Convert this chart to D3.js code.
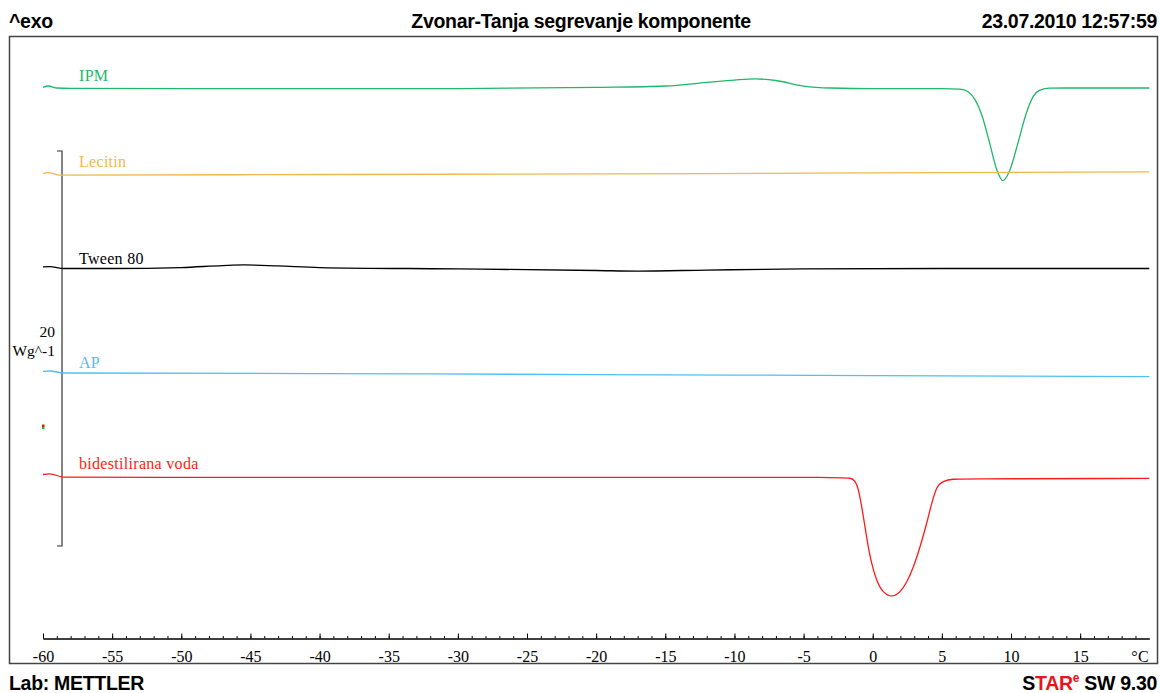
<!DOCTYPE html>
<html>
<meta charset="utf-8">
<style>
  body { margin: 0; background: #fff; }
  .hdr { font-family: "Liberation Sans", Arial, sans-serif; font-weight: bold; font-size: 19.5px; letter-spacing: -0.3px; }
  .lbl { font-family: "Liberation Serif", "Times New Roman", serif; font-size: 16px; letter-spacing: 0.3px; }
  .unit { font-family: "Liberation Serif", "Times New Roman", serif; font-size: 15.5px; }
  .axis text { font-family: "Liberation Serif", "Times New Roman", serif; font-size: 16px; fill: #000; }
  .axis path, .axis line { stroke: #000; }
</style>
<body>
<div id="viz"></div>
<script src="https://d3js.org/d3.v7.min.js"></script>
<script>
// temperature ticks (°C)
var xTicks = [-60, -55, -50, -45, -40, -35, -30, -25, -20, -15, -10, -5, 0, 5, 10, 15];
var minorTicks = d3.range(-60, 20, 1);

// curves: [temperature °C, heat flow W/g (with display offset)]
var ipm = [[-60,23.22],[-59.6,23.29],[-59,23.19],[-58,23.17],[-40,23.16],[-30,23.16],[-20,23.22],
  [-15,23.29],[-12,23.47],[-10,23.59],[-8.5,23.65],[-7,23.57],[-5,23.29],[-3,23.19],[0,23.16],[5,23.16],
  [6.3,23.13],[6.9,23.0],[7.4,22.6],[7.9,21.8],[8.4,20.55],[9.0,19.0],[9.4,18.5],[9.9,19.0],[10.5,20.4],
  [11.1,21.9],[11.6,22.75],[12.1,23.08],[12.8,23.18],[14,23.19],[20,23.19]];
var lecitin = [[-60,18.86],[-59.6,18.91],[-58.8,18.78],[-40,18.81],[-20,18.84],[0,18.89],[20,18.94]];
var tween = [[-60,14.13],[-59.5,14.15],[-58.5,14.05],[-55,14.05],[-50,14.10],[-47,14.20],[-45.5,14.23],
  [-43,14.18],[-40,14.10],[-30,14.03],[-20,13.95],[-17,13.92],[-12,13.97],[-5,14.03],[5,14.05],[20,14.05]];
var ap = [[-60,8.84],[-59.5,8.86],[-58.5,8.76],[-40,8.73],[-20,8.68],[0,8.63],[20,8.58]];
var voda = [[-60,3.62],[-59.5,3.65],[-58.5,3.49],[-40,3.47],[-20,3.47],[-4,3.47],[-2.3,3.45],[-1.64,3.43],
  [-1.28,3.26],[-1.04,2.84],[-0.80,1.99],[-0.56,0.98],[-0.32,-0.04],[-0.07,-0.88],[0.29,-1.72],[0.77,-2.31],
  [1.37,-2.53],[1.97,-2.31],[2.46,-1.81],[2.94,-1.05],[3.42,-0.04],[3.90,1.15],[4.27,2.16],[4.63,2.92],
  [5.10,3.26],[5.83,3.38],[6.31,3.39],[8,3.40],[20,3.42]];

var seriesNames = ["IPM", "Lecitin", "Tween 80", "AP", "bidestilirana voda"];
var seriesData = [ipm, lecitin, tween, ap, voda];
var seriesColors = ["#1db868", "#f2b84b", "#000000", "#4ec0f5", "#ff1a1a"];
var labelOffsets = [7, 8, 5, 6, 8];

var svg = d3.select("#viz").append("svg").attr("width", 1161).attr("height", 693);

var x = d3.scaleLinear().domain([-60, 20]).range([43, 1149.3]);
var y = d3.scaleLinear().domain([0, 20]).range([546, 151]);

// frame
svg.append("rect").attr("x", 9.5).attr("y", 36.5).attr("width", 1148).attr("height", 627)
  .attr("fill", "none").attr("stroke", "#444").attr("stroke-width", 1.5);

// header / footer
svg.append("text").attr("class", "hdr").attr("x", 9).attr("y", 28).text("^exo");
svg.append("text").attr("class", "hdr").attr("x", 581).attr("y", 28).attr("text-anchor", "middle")
  .text("Zvonar-Tanja segrevanje komponente");
svg.append("text").attr("class", "hdr").attr("x", 1157).attr("y", 28).attr("text-anchor", "end")
  .text("23.07.2010 12:57:59");
svg.append("text").attr("class", "hdr").attr("x", 9).attr("y", 690).text("Lab: METTLER");
var star = svg.append("text").attr("class", "hdr").attr("x", 1157).attr("y", 690).attr("text-anchor", "end");
star.append("tspan").text("S");
star.append("tspan").attr("fill", "#e8141c").text("TAR");
star.append("tspan").attr("fill", "#e8141c").attr("font-size", "12px").attr("dy", -8).text("e");
star.append("tspan").attr("dy", 8).text(" SW 9.30");

// x axis
var ay = 638.5;
svg.append("g").attr("class", "axis").attr("transform", "translate(0," + ay + ")")
  .call(d3.axisBottom(x).tickValues(minorTicks).tickSize(-2.5).tickFormat("").tickSizeOuter(0));
svg.append("g").attr("class", "axis").attr("transform", "translate(0," + ay + ")")
  .call(d3.axisBottom(x).tickValues(xTicks).tickSize(-5).tickPadding(12).tickFormat(d3.format("d")).tickSizeOuter(0))
  .call(function(g) { g.selectAll("text").text(function(d) { return d < 0 ? "-" + Math.abs(d) : d; }); });
svg.append("text").attr("class", "lbl").attr("x", 1149).attr("y", 662).attr("text-anchor", "end").text("°C");

// scale bar (20 W/g)
svg.append("path").attr("fill", "none").attr("stroke", "#333").attr("stroke-width", 1.2)
  .attr("d", "M" + (62 - 5) + "," + y(20) + "H62V" + y(0) + "H" + (62 - 5));
svg.append("text").attr("class", "unit").attr("x", 55).attr("y", 337).attr("text-anchor", "end").text("20");
svg.append("text").attr("class", "unit").attr("x", 55).attr("y", 356).attr("text-anchor", "end").text("Wg^-1");

// tiny marker
svg.append("rect").attr("x", 42).attr("y", 424.5).attr("width", 2.5).attr("height", 2.5).attr("fill", "#cc2200");
svg.append("rect").attr("x", 42).attr("y", 427).attr("width", 2.5).attr("height", 2).attr("fill", "#22cc22");

// curves
var line = d3.line().x(function(d) { return x(d[0]); }).y(function(d) { return y(d[1]); })
  .curve(d3.curveMonotoneX);
seriesData.forEach(function(data, i) {
  svg.append("path").datum(data).attr("fill", "none").attr("stroke", seriesColors[i])
    .attr("stroke-width", 1.3).attr("d", line);
  svg.append("text").attr("class", "lbl").attr("x", 79)
    .attr("y", y(data[3][1]) - labelOffsets[i])
    .attr("fill", seriesColors[i]).text(seriesNames[i]);
});
</script>
</body>
</html>
